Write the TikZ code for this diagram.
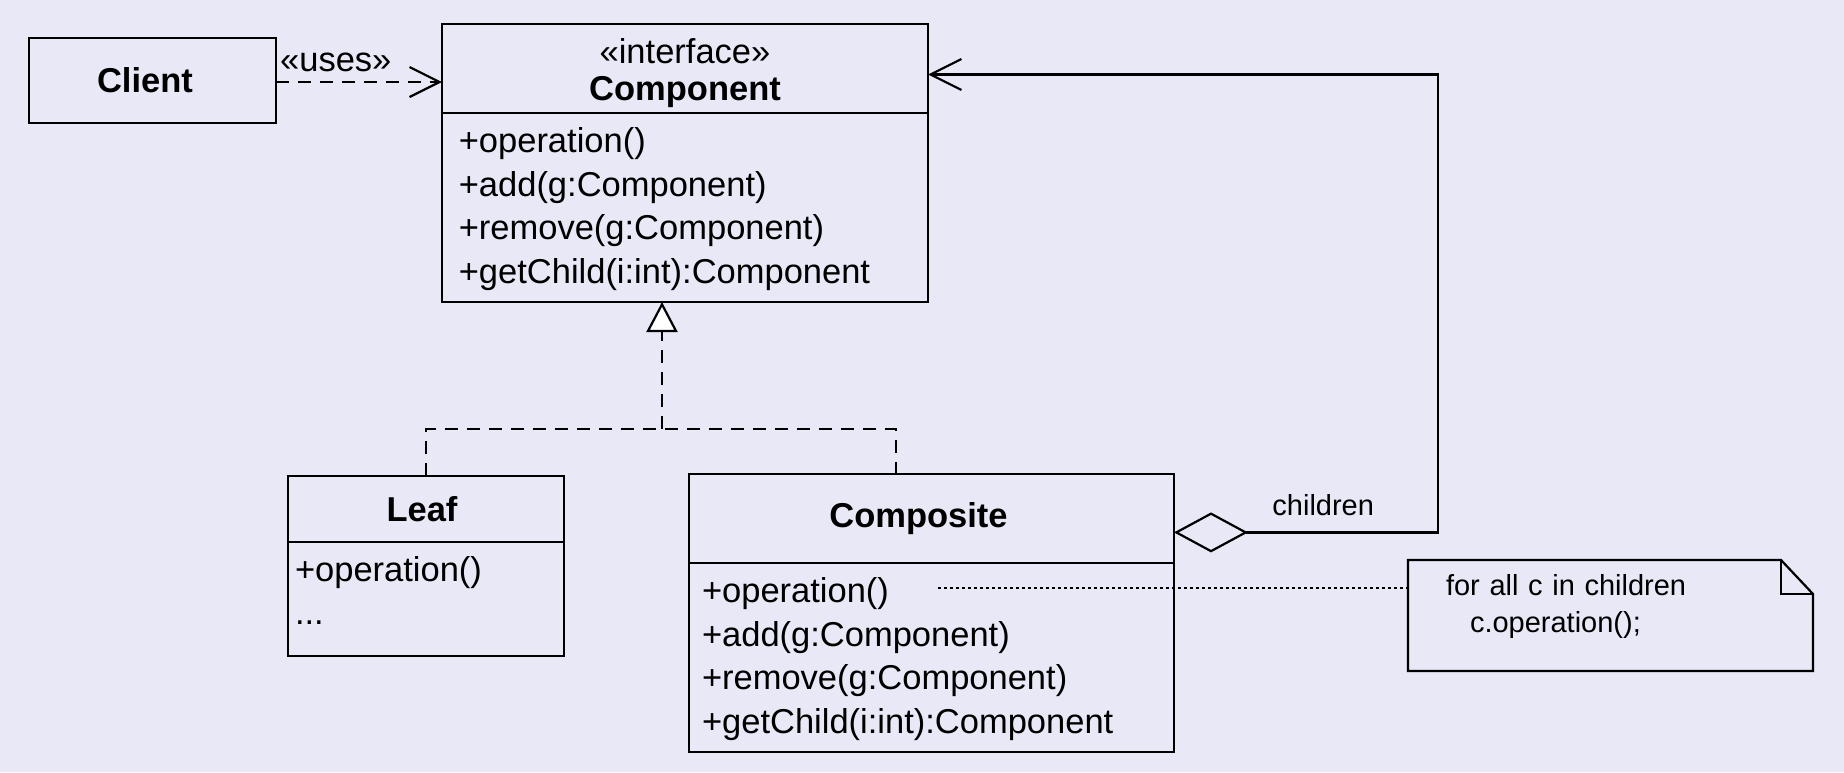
\documentclass[tikz,border=0pt]{standalone}
\usepackage{fontspec}
\setmainfont{Liberation Sans}
\usetikzlibrary{arrows.meta,positioning}
\definecolor{umlbg}{RGB}{232,232,246}

\begin{document}
\begin{tikzpicture}[
	x=1pt, y=-1pt,
	line width=2.2pt,
	classhead/.style={draw, inner sep=0pt, outer sep=0pt, font=\fontsize{34.5}{37}\selectfont\bfseries},
	classbody/.style={draw, inner ysep=0pt, outer sep=0pt, align=left, text height=39.9pt, font=\fontsize{34.5}{43.5}\selectfont},
	memo/.style={inner xsep=38pt, inner ysep=0pt, outer sep=0pt, align=left, text width=329pt, text height=35pt, text depth=76pt, font=\fontsize{29}{37}\selectfont},
	tag/.style={inner sep=3.33pt, font=\fontsize{34.5}{40}\selectfont},
	dependency/.style={dash pattern=on 13pt off 9pt, -{Straight Barb[length=30pt, width=30pt]}},
	realize/.style={dash pattern=on 13pt off 9pt},
	aggregation/.style={{Diamond[open, length=74pt, width=40pt]}-{Straight Barb[length=31pt, width=31pt]}},
	dotline/.style={line width=1.8pt, dash pattern=on 3pt off 3pt}
	]
	
	% Background
	\path[fill=umlbg, use as bounding box] (0,0) rectangle (1844,772);
	
	% Client
	\node[classhead, minimum width=247pt, minimum height=85pt] (client) at (152.5,80.5) {Client\hspace*{15pt}};
	
	% Component (interface)
	\node[classhead, text width=486pt, align=center, text height=39.3pt, text depth=49.7pt, font=\fontsize{34.5}{37}\selectfont] (ihead) at (685,68.5) {«interface»\hspace*{27pt}\\\textbf{Component}\hspace*{27pt}};
	\node[classbody, text width=452.4pt, inner xsep=16.8pt, text depth=149.1pt, below=0pt of ihead] (ibody) {+operation()\\+add(g:Component)\\+remove(g:Component)\\+getChild(i:int):Component};
	
	% Leaf
	\node[classhead, minimum width=276pt, minimum height=65.7pt] (leafhead) at (426,508.9) {Leaf\hspace*{8pt}};
	\node[classbody, text width=262pt, inner xsep=7pt, text height=39.4pt, text depth=74.9pt, below=0pt of leafhead] (leafbody) {+operation()\\...};
	
	% Composite
	\node[classhead, minimum width=485pt, minimum height=88.7pt] (comphead) at (931.5,518.4) {Composite\hspace*{26pt}};
	\node[classbody, text width=459pt, inner xsep=13pt, text depth=149.1pt, below=0pt of comphead] (compbody) {+operation()\\+add(g:Component)\\+remove(g:Component)\\+getChild(i:int):Component};
	
	% Note
	\node[memo] (memo) at (1610.5,615.5) {for all c in children\\\hspace*{24pt}c.operation();};
	\draw (memo.north west) -- ([xshift=-32pt]memo.north east) -- ([yshift=-34pt]memo.north east) -- (memo.south east) -- (memo.south west) -- cycle;
	\draw ([xshift=-32pt]memo.north east) |- ([yshift=-34pt]memo.north east);
	
	% Client uses Component
	\draw[dependency] ([yshift=-1.5pt]client.east) -- ([yshift=-1.5pt]client.east -| ihead.west) node[tag, pos=0.36, above=6pt] {«uses»};
	
	% Realization
	\coordinate (join) at (662,429);
	\coordinate (cjoin) at (896,429);
	\draw[realize] (leafhead.north) |- (cjoin) -- (cjoin |- comphead.north);
	\draw[realize, -{Triangle[length=30pt, width=31pt, fill=white]}] (join) -- (join |- ibody.south);
	
	% Aggregation
	\coordinate (loop) at (1437.6,74.5);
	\draw[aggregation] ([yshift=-14pt]comphead.east) -| node[tag, pos=0.283, above=12pt, font=\fontsize{29}{34}\selectfont] {children} (loop) -- ([yshift=-6pt]ihead.east);
	
	% Note link
	\coordinate (opnote) at (938,588.3);
	\draw[dotline] (opnote) -- (opnote -| memo.west);
	
\end{tikzpicture}
\end{document}
